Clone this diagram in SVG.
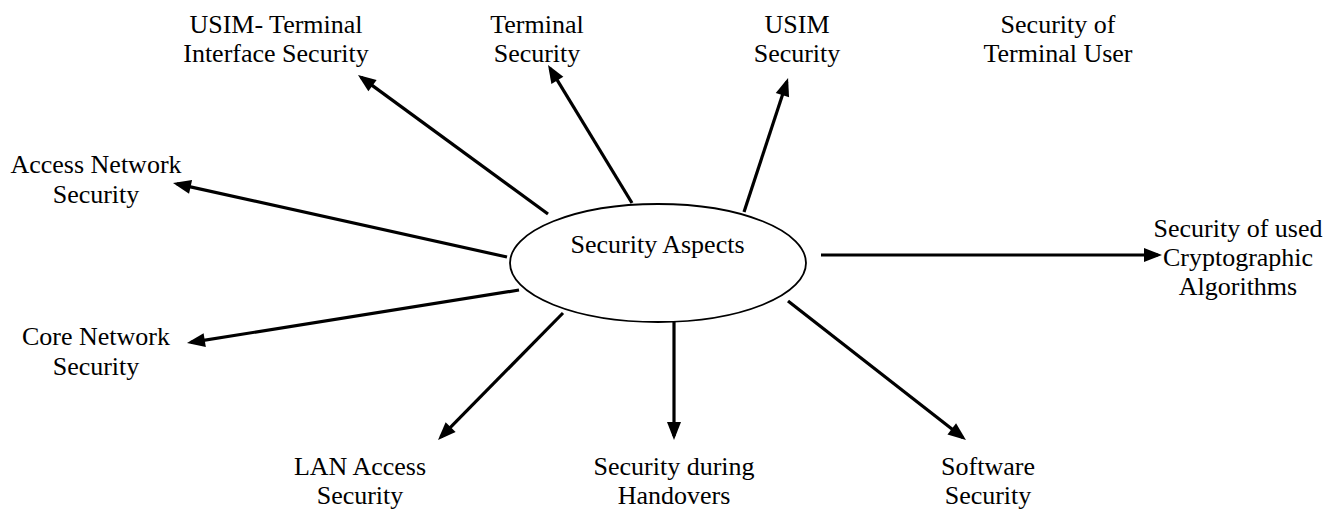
<svg xmlns="http://www.w3.org/2000/svg" width="1341" height="511" viewBox="0 0 1341 511">
  <style>
    text { font-family: 'Liberation Serif', 'Times New Roman', Times, 'DejaVu Serif', serif; font-size: 26px; fill: #000; text-anchor: middle; }
    .hub { fill: #fff; stroke: #000; stroke-width: 1.8; }
    .link { stroke: #000; stroke-width: 3.2; fill: none; marker-end: url(#head); }
  </style>
  <defs>
    <marker id="head" markerUnits="userSpaceOnUse" markerWidth="18" markerHeight="14" refX="14" refY="7" orient="auto" overflow="visible">
      <path d="M0,0 L18,7 L0,14 z" fill="#000"/>
    </marker>
  </defs>

  <rect width="1341" height="511" fill="#fff"/>

  <!-- connectors radiating from the central ellipse -->
  <g id="connectors">
    <line class="link" x1="548" y1="214" x2="361.2" y2="77.4"/>
    <line class="link" x1="632" y1="203" x2="550.1" y2="68.4"/>
    <line class="link" x1="744" y1="212" x2="786.8" y2="81.8"/>
    <line class="link" x1="821" y1="255" x2="1158" y2="255"/>
    <line class="link" x1="788" y1="301" x2="962.8" y2="437.5"/>
    <line class="link" x1="674" y1="322" x2="674" y2="436"/>
    <line class="link" x1="563" y1="313" x2="440.8" y2="437.1"/>
    <line class="link" x1="519" y1="290" x2="190.9" y2="342.4"/>
    <line class="link" x1="507" y1="257" x2="176.9" y2="183.9"/>
  </g>

  <g id="security-aspects">
    <ellipse class="hub" cx="658" cy="263" rx="148" ry="59"/>
    <text x="657.5" y="253" font-family="Liberation Serif, serif">Security Aspects</text>
  </g>

  <g id="usim-terminal-interface">
    <text x="276" y="33">USIM- Terminal</text>
    <text x="276" y="62">Interface Security</text>
  </g>

  <g id="terminal-security">
    <text x="537" y="33">Terminal</text>
    <text x="537" y="62">Security</text>
  </g>

  <g id="usim-security">
    <text x="797" y="33">USIM</text>
    <text x="797" y="62">Security</text>
  </g>

  <g id="terminal-user">
    <text x="1058" y="33">Security of</text>
    <text x="1058" y="62">Terminal User</text>
  </g>

  <g id="access-network">
    <text x="96" y="173">Access Network</text>
    <text x="96" y="203">Security</text>
  </g>

  <g id="crypto-algorithms">
    <text x="1238" y="237">Security of used</text>
    <text x="1238" y="266">Cryptographic</text>
    <text x="1238" y="295">Algorithms</text>
  </g>

  <g id="core-network">
    <text x="96" y="345">Core Network</text>
    <text x="96" y="375">Security</text>
  </g>

  <g id="lan-access">
    <text x="360" y="475">LAN Access</text>
    <text x="360" y="504">Security</text>
  </g>

  <g id="handovers">
    <text x="674" y="475">Security during</text>
    <text x="674" y="504">Handovers</text>
  </g>

  <g id="software-security">
    <text x="988" y="475">Software</text>
    <text x="988" y="504">Security</text>
  </g>
</svg>
